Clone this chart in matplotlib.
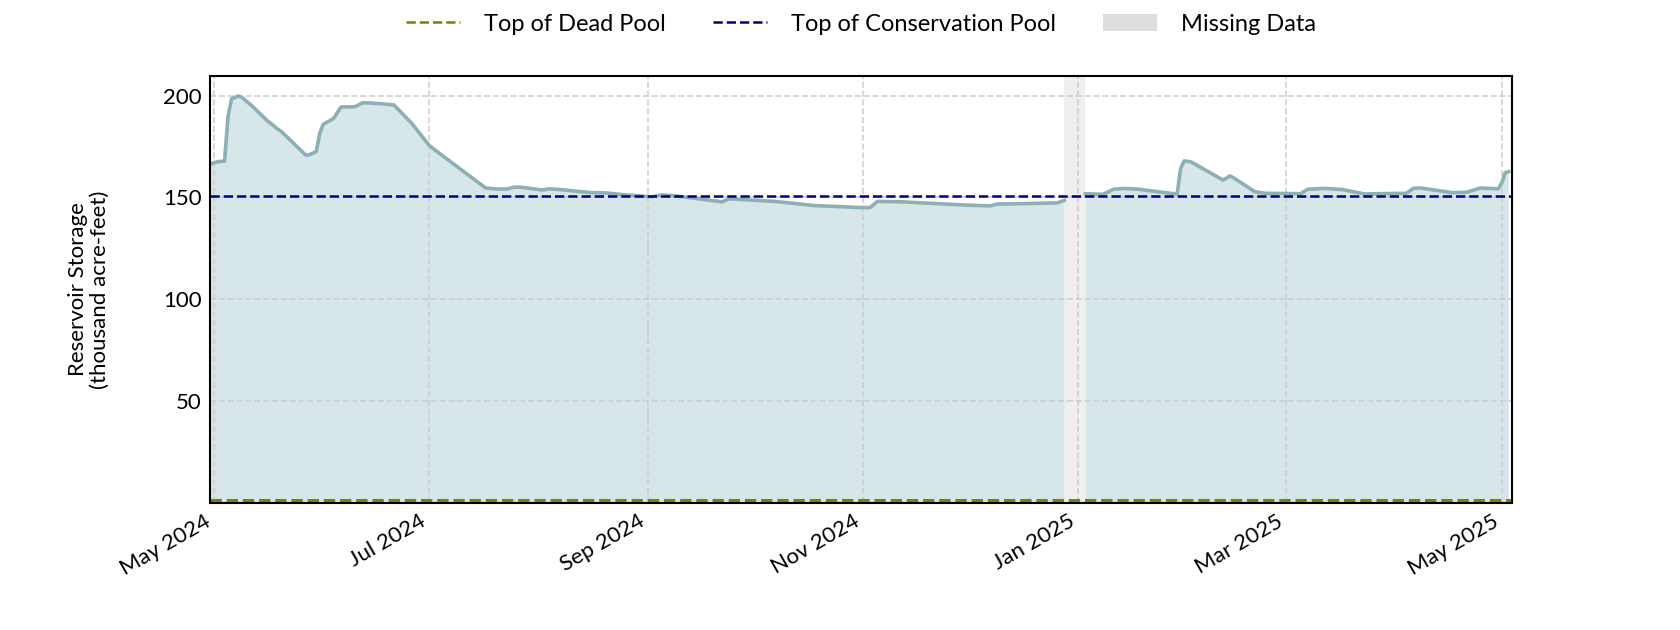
import matplotlib
matplotlib.use("Agg")
import matplotlib.pyplot as plt
import matplotlib.dates as mdates
from matplotlib.lines import Line2D
from matplotlib.patches import Patch
import numpy as np
import pandas as pd

plt.rcParams['font.family'] = ['Lato', 'DejaVu Sans']

dates = [
    "2024-04-30", "2024-05-02", "2024-05-04", "2024-05-05", "2024-05-06", "2024-05-08",
    "2024-05-09", "2024-05-12", "2024-05-16", "2024-05-17", "2024-05-19", "2024-05-20",
    "2024-05-27", "2024-05-28", "2024-05-30", "2024-05-31", "2024-06-01", "2024-06-03",
    "2024-06-04", "2024-06-06", "2024-06-10", "2024-06-12", "2024-06-14", "2024-06-18",
    "2024-06-21", "2024-06-26", "2024-07-01", "2024-07-03", "2024-07-09", "2024-07-17",
    "2024-07-20", "2024-07-23", "2024-07-25", "2024-07-27", "2024-08-02", "2024-08-04",
    "2024-08-06", "2024-08-16", "2024-08-20", "2024-08-25", "2024-09-02", "2024-09-05",
    "2024-09-09", "2024-09-22", "2024-09-24", "2024-10-07", "2024-10-18", "2024-10-31",
    "2024-11-03", "2024-11-05", "2024-11-12", "2024-11-29", "2024-12-07", "2024-12-09",
    "2024-12-16", "2024-12-26", "2024-12-28", "2024-12-31", "2025-01-03", "2025-01-08",
    "2025-01-11", "2025-01-14", "2025-01-18", "2025-01-28", "2025-01-29", "2025-01-30",
    "2025-01-31", "2025-02-02", "2025-02-11", "2025-02-13", "2025-02-14", "2025-02-20",
    "2025-02-23", "2025-03-05", "2025-03-07", "2025-03-12", "2025-03-17", "2025-03-23",
    "2025-04-04", "2025-04-06", "2025-04-08", "2025-04-17", "2025-04-21", "2025-04-25",
    "2025-04-30", "2025-05-01", "2025-05-02", "2025-05-03",
]
storage = [
    166.5, 167.5, 167.8, 190.0, 198.5, 199.8,
    199.0, 194.6, 187.8, 186.5, 183.6, 182.5,
    170.8, 170.9, 172.5, 181.6, 186.0, 187.8,
    189.0, 194.4, 194.5, 196.4, 196.4, 195.9,
    195.4, 186.5, 175.5, 172.8, 165.0, 154.6,
    154.1, 154.1, 155.0, 155.0, 153.6, 154.2,
    154.0, 152.3, 152.2, 151.3, 150.3, 151.2,
    150.7, 147.8, 149.3, 148.0, 146.0, 145.0,
    145.0, 148.0, 147.8, 146.3, 145.8, 146.7,
    146.9, 147.3, 148.5, np.nan, 151.8, 151.5,
    154.0, 154.4, 154.0, 151.8, 151.7, 164.2,
    167.9, 167.4, 158.5, 160.5, 159.6, 152.8,
    152.0, 151.8, 154.0, 154.4, 153.8, 151.7,
    152.0, 154.5, 154.6, 152.3, 152.5, 154.6,
    154.2, 157.0, 162.2, 162.6,
]
dead_pool = 1.2
conservation_pool = 150.6
missing_start = "2024-12-28"
missing_end = "2025-01-03"
legend_labels = ["Top of Dead Pool", "Top of Conservation Pool", "Missing Data"]

x = pd.to_datetime(dates)
y = np.array(storage, dtype=float)

fig = plt.figure(figsize=(16.8, 6.3), dpi=100)
ax = fig.add_axes([0.125, 0.202, 0.775, 0.677])

line_color = "#8db0b5"
fill_color = "#d6e6e9"

ax.axvspan(pd.Timestamp(missing_start), pd.Timestamp(missing_end),
           color="#efefef", zorder=0.5, lw=0)
ax.fill_between(x, 0, y, color=fill_color, lw=0, zorder=1)
ax.plot(x, y, color=line_color, lw=2.6, zorder=3, solid_joinstyle='round')
ax.axhline(conservation_pool, color="#000080", ls="--", lw=1.8, zorder=4)
ax.axhline(dead_pool, color="#808000", ls="--", lw=2.2, zorder=4)

ax.set_ylim(0, 209.5)
ax.set_xlim(pd.Timestamp("2024-04-29 21:00"), pd.Timestamp("2025-05-03 22:00"))
ax.set_yticks([50, 100, 150, 200])
ax.xaxis.set_major_locator(mdates.MonthLocator(bymonth=[1, 3, 5, 7, 9, 11]))
ax.xaxis.set_major_formatter(mdates.DateFormatter("%b %Y"))
ax.grid(True, color="#cccccc", ls="--", lw=1.2, alpha=0.9, zorder=2)
ax.set_axisbelow(False)
for gl in ax.get_xgridlines() + ax.get_ygridlines():
    gl.set_zorder(2)

ax.tick_params(axis='both', length=0, labelsize=16, pad=6)
for lbl in ax.get_xticklabels():
    lbl.set_rotation(30)
    lbl.set_ha("right")
for s in ax.spines.values():
    s.set_linewidth(1.5)
    s.set_color("black")
    s.set_zorder(6)

ax.set_ylabel("Reservoir Storage\n(thousand acre-feet)", fontsize=16, labelpad=38,
              linespacing=1.15)

handles = [
    Line2D([0], [0], color="#808000", ls="--", lw=1.8),
    Line2D([0], [0], color="#000080", ls="--", lw=1.8),
    Patch(facecolor="#dddddd", edgecolor="none"),
]
ax.legend(handles, legend_labels, loc="center", bbox_to_anchor=(0.5, 1.122),
          ncol=3, frameon=False, fontsize=17, handlelength=2.3,
          handletextpad=1.0, columnspacing=2.0)

fig.savefig("out.png", dpi=100)
